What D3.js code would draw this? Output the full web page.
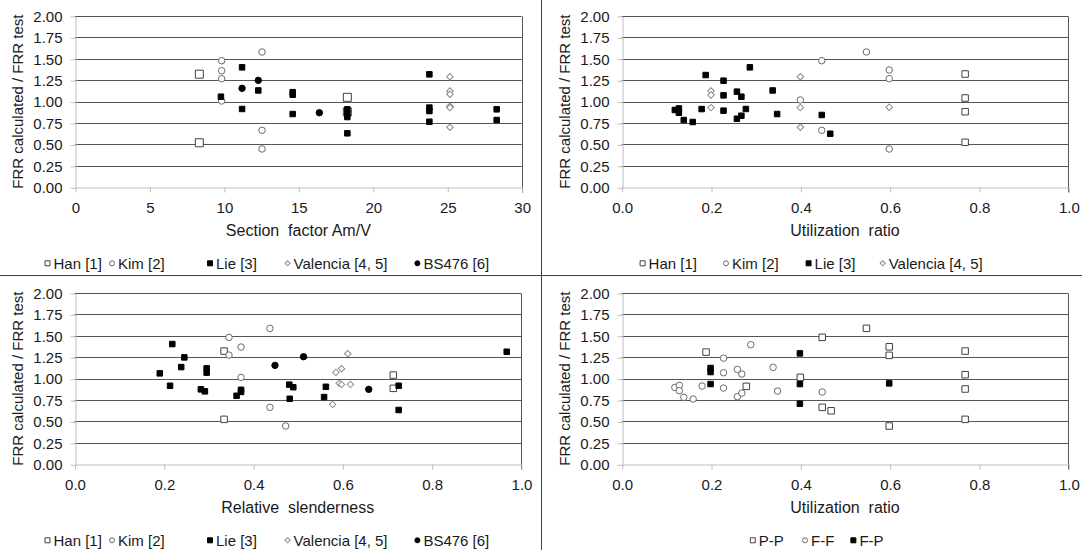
<!DOCTYPE html>
<html>
<head>
<meta charset="utf-8">
<script src="https://cdn.jsdelivr.net/npm/d3@7"></script>
<style>
body { margin: 0; background: #fff; }
text { font-family: "Liberation Sans", Arial, sans-serif; fill: #1a1a1a; }
</style>
</head>
<body>
<svg id="fig" width="1082" height="550"></svg>
<script>
// TICKS
var yTicks = [0, 0.25, 0.5, 0.75, 1, 1.25, 1.5, 1.75, 2];
var sfTicks = [0, 5, 10, 15, 20, 25, 30];
var ratioTicks = [0, 0.2, 0.4, 0.6, 0.8, 1.0];

var refNames = ["Han [1]", "Kim [2]", "Lie [3]", "Valencia [4, 5]", "BS476 [6]"];
var connNames = ["P-P", "F-F", "F-P"];

// PANEL A - section factor Am/V
var sfHan = [[8.35,1.32],[8.35,0.52],[18.29,1.05],[18.29,0.88]];
var sfKim = [[9.85,1.477],[9.85,1.36],[9.85,1.267],[9.85,1.007],[12.56,1.579],[12.56,0.665],[12.56,0.447]];
var sfLie = [[11.22,1.40],[9.8,1.057],[11.22,0.914],[12.31,1.13],[14.62,1.11],[14.62,1.08],[14.62,0.855],
  [18.29,0.91],[18.29,0.86],[18.29,0.82],[18.29,0.63],[23.8,1.318],[23.8,0.93],[23.8,0.89],[23.8,0.765],
  [28.32,0.91],[28.32,0.785]];
var sfValencia = [[25.18,1.29],[25.18,1.124],[25.18,1.085],[25.18,0.945],[25.18,0.933],[25.18,0.93],[25.18,0.70]];
var sfBS = [[11.22,1.155],[12.31,1.248],[16.41,0.87]];

// PANEL B - utilization ratio, by reference
var urHan = [[0.769,1.322],[0.769,1.042],[0.769,0.882],[0.769,0.525]];
var urKim = [[0.448,1.477],[0.4,1.019],[0.448,0.665],[0.548,1.579],[0.599,1.369],[0.599,1.267],[0.599,0.447]];
var urLie = [[0.119,0.902],[0.128,0.92],[0.128,0.87],[0.139,0.785],[0.159,0.762],[0.179,0.913],[0.188,1.31],
  [0.228,1.244],[0.228,1.073],[0.228,0.894],[0.258,1.116],[0.268,1.057],[0.258,0.80],[0.268,0.835],
  [0.278,0.914],[0.287,1.40],[0.338,1.13],[0.348,0.855],[0.448,0.844],[0.467,0.625]];
var urValencia = [[0.2,1.124],[0.2,1.078],[0.2,0.93],[0.4,1.29],[0.4,0.93],[0.4,0.70],[0.599,0.935]];

// PANEL C - relative slenderness
var rsHan = [[0.335,1.322],[0.335,0.525],[0.714,1.042],[0.714,0.887]];
var rsKim = [[0.4377,1.587],[0.346,1.482],[0.373,1.369],[0.346,1.275],[0.373,1.015],[0.4377,0.665],[0.473,0.447]];
var rsLie = [[0.219,1.404],[0.246,1.248],[0.239,1.135],[0.191,1.062],[0.214,0.917],[0.296,1.12],[0.296,1.07],
  [0.283,0.875],[0.292,0.852],[0.363,0.80],[0.373,0.87],[0.373,0.845],[0.481,0.93],[0.49,0.90],[0.482,0.765],
  [0.563,0.905],[0.559,0.785],[0.726,0.917],[0.726,0.634],[0.968,1.314]];
var rsValencia = [[0.612,1.29],[0.5855,1.073],[0.598,1.116],[0.593,0.945],[0.598,0.933],[0.618,0.933],[0.578,0.70]];
var rsBS = [[0.449,1.155],[0.513,1.256],[0.659,0.875]];

// PANEL D - utilization ratio, by connection type
var ppPoints = [[0.189,1.31],[0.279,0.91],[0.4,1.015],[0.449,0.665],[0.449,1.482],[0.469,0.625],[0.548,1.587],
  [0.599,1.372],[0.599,1.272],[0.599,0.447],[0.769,1.322],[0.769,1.046],[0.769,0.879],[0.769,0.525]];
var ffPoints = [[0.119,0.898],[0.129,0.922],[0.129,0.86],[0.139,0.782],[0.16,0.762],[0.18,0.914],[0.228,1.24],
  [0.228,1.069],[0.228,0.89],[0.259,1.108],[0.269,1.054],[0.259,0.789],[0.269,0.832],[0.289,1.396],
  [0.339,1.132],[0.349,0.855],[0.449,0.844]];
var fpPoints = [[0.199,1.124],[0.199,1.077],[0.199,0.937],[0.399,1.295],[0.399,0.937],[0.399,0.707],[0.599,0.945]];

// MARKER STYLES
var mk = {
  hanBig:  {shape: "square", size: 8, fill: "#fff", stroke: "#404040"},
  han:     {shape: "square", size: 6.5, fill: "#fff", stroke: "#404040"},
  kim:     {shape: "circle", size: 6.5, fill: "#fff", stroke: "#6a6a6a"},
  lie:     {shape: "square", size: 5.5, fill: "#000", stroke: "#000"},
  val:     {shape: "diamond", size: 4.6, fill: "#fff", stroke: "#8a8a8a"},
  bs:      {shape: "circle", size: 6.4, fill: "#000", stroke: "#000"}
};

var svg = d3.select("#fig");

function symbolPath(st) {
  if (st.shape == "circle") return d3.symbol(d3.symbolCircle, Math.PI * st.size * st.size / 4)();
  return d3.symbol(d3.symbolSquare, st.size * st.size)();
}

function drawMarks(g, pts, st, x, y) {
  g.selectAll(null)
    .data(pts)
    .enter()
    .append("path")
    .attr("d", symbolPath(st))
    .attr("transform", (d) => "translate(" + x(d[0]) + "," + y(d[1]) + ")" + (st.shape == "diamond" ? " rotate(45)" : ""))
    .attr("fill", st.fill)
    .attr("stroke", st.stroke)
    .attr("stroke-width", 1);
}

function panel(cfg) {
  var g = svg.append("g");
  var x = d3.scaleLinear().domain([cfg.xTicks[0], cfg.xTicks[cfg.xTicks.length - 1]]).range([cfg.left, cfg.right]);
  var y = d3.scaleLinear().domain([0, 2]).range([cfg.bottom, cfg.top]);
  var px = (v) => Math.round(v) + 0.5;

  // gridlines
  g.selectAll("line.grid")
    .data(yTicks.filter((t) => t > 0))
    .enter()
    .append("line")
    .attr("x1", cfg.left).attr("x2", cfg.right)
    .attr("y1", (d) => px(y(d))).attr("y2", (d) => px(y(d)))
    .attr("stroke", "#555");

  // right border of plot area
  g.append("line")
    .attr("x1", px(cfg.right)).attr("x2", px(cfg.right))
    .attr("y1", px(y(2))).attr("y2", px(y(0)) + 5)
    .attr("stroke", "#555");

  // y axis
  var yAx = g.append("g")
    .attr("transform", "translate(" + px(cfg.left) + ",0.5)")
    .call(d3.axisLeft(y).tickValues(yTicks).tickFormat(d3.format(".2f")).tickSize(5).tickPadding(8).tickSizeOuter(0));
  // x axis
  var xAx = g.append("g")
    .attr("transform", "translate(0.5," + px(y(0)) + ")")
    .call(d3.axisBottom(x).tickValues(cfg.xTicks).tickFormat(cfg.fmt).tickSize(5).tickSizeOuter(0));
  xAx.selectAll("text").attr("y", 20).attr("dy", "0.35em");
  [yAx, xAx].forEach((a) => {
    a.select(".domain").attr("stroke", "#bdbdbd");
    a.selectAll(".tick line").attr("stroke", "#bdbdbd");
    a.selectAll("text").style("font-size", "15px").attr("fill", "#1a1a1a")
      .style("font-family", '"Liberation Sans", Arial, sans-serif');
  });

  // axis titles
  g.append("text")
    .attr("x", (cfg.left + cfg.right) / 2)
    .attr("y", y(0) + 43.5)
    .attr("dy", "0.35em")
    .style("text-anchor", "middle")
    .style("font-size", "16px")
    .style("white-space", "pre")
    .text(cfg.xTitle);

  g.append("text")
    .attr("transform", "translate(" + (cfg.left - 52) + "," + ((y(0) + y(2)) / 2) + ") rotate(-90)")
    .style("text-anchor", "middle")
    .style("font-size", "15px")
    .text("FRR calculated / FRR test");

  // series
  cfg.series.forEach((s) => drawMarks(g, s.pts, s.st, x, y));

  // legend
  var leg = g.append("g").attr("transform", "translate(0," + (y(0) + 76) + ")");
  cfg.legend.forEach((l, i) => {
    var st = Object.assign({}, l.st, {size: l.st.shape == "diamond" ? 3.6 : 5});
    leg.append("path")
      .attr("d", symbolPath(st))
      .attr("transform", "translate(" + l.x + ",0)" + (st.shape == "diamond" ? " rotate(45)" : ""))
      .attr("fill", st.fill).attr("stroke", st.stroke);
    leg.append("text")
      .attr("x", l.x + 6)
      .attr("y", 0)
      .attr("dy", "0.35em")
      .style("font-size", "15px")
      .text(l.name);
  });
}

var fmt1 = d3.format(".1f");

panel({
  left: 75, right: 521.7, top: 15.9, bottom: 187.3,
  xTicks: sfTicks, fmt: d3.format("d"), xTitle: "Section  factor Am/V",
  series: [
    {pts: sfHan, st: mk.hanBig}, {pts: sfKim, st: mk.kim}, {pts: sfLie, st: mk.lie},
    {pts: sfValencia, st: mk.val}, {pts: sfBS, st: mk.bs}
  ],
  legend: [
    {x: 47.5, name: refNames[0], st: mk.han}, {x: 112, name: refNames[1], st: mk.kim},
    {x: 210, name: refNames[2], st: mk.lie}, {x: 287.6, name: refNames[3], st: mk.val},
    {x: 417.4, name: refNames[4], st: mk.bs}
  ]
});

panel({
  left: 621.7, right: 1068.3, top: 15.9, bottom: 187.3,
  xTicks: ratioTicks, fmt: fmt1, xTitle: "Utilization  ratio",
  series: [
    {pts: urHan, st: mk.han}, {pts: urKim, st: mk.kim}, {pts: urLie, st: mk.lie},
    {pts: urValencia, st: mk.val}
  ],
  legend: [
    {x: 642.6, name: refNames[0], st: mk.han}, {x: 726, name: refNames[1], st: mk.kim},
    {x: 808.6, name: refNames[2], st: mk.lie}, {x: 882.7, name: refNames[3], st: mk.val}
  ]
});

panel({
  left: 74.5, right: 521, top: 293, bottom: 464.3,
  xTicks: ratioTicks, fmt: fmt1, xTitle: "Relative  slenderness",
  series: [
    {pts: rsHan, st: mk.han}, {pts: rsKim, st: mk.kim}, {pts: rsLie, st: mk.lie},
    {pts: rsValencia, st: mk.val}, {pts: rsBS, st: mk.bs}
  ],
  legend: [
    {x: 47.5, name: refNames[0], st: mk.han}, {x: 112, name: refNames[1], st: mk.kim},
    {x: 210, name: refNames[2], st: mk.lie}, {x: 287.6, name: refNames[3], st: mk.val},
    {x: 417.4, name: refNames[4], st: mk.bs}
  ]
});

panel({
  left: 621.7, right: 1068.3, top: 293, bottom: 464.3,
  xTicks: ratioTicks, fmt: fmt1, xTitle: "Utilization  ratio",
  series: [
    {pts: ppPoints, st: mk.han}, {pts: ffPoints, st: mk.kim}, {pts: fpPoints, st: mk.lie}
  ],
  legend: [
    {x: 752.8, name: connNames[0], st: mk.han}, {x: 805, name: connNames[1], st: mk.kim},
    {x: 853.4, name: connNames[2], st: mk.lie}
  ]
});

// PANEL SEPARATORS
svg.append("line").attr("x1", 541.5).attr("x2", 541.5).attr("y1", 0).attr("y2", 550).attr("stroke", "#404040");
svg.append("line").attr("x1", 0).attr("x2", 1082).attr("y1", 275.5).attr("y2", 275.5).attr("stroke", "#404040");
</script>
</body>
</html>
